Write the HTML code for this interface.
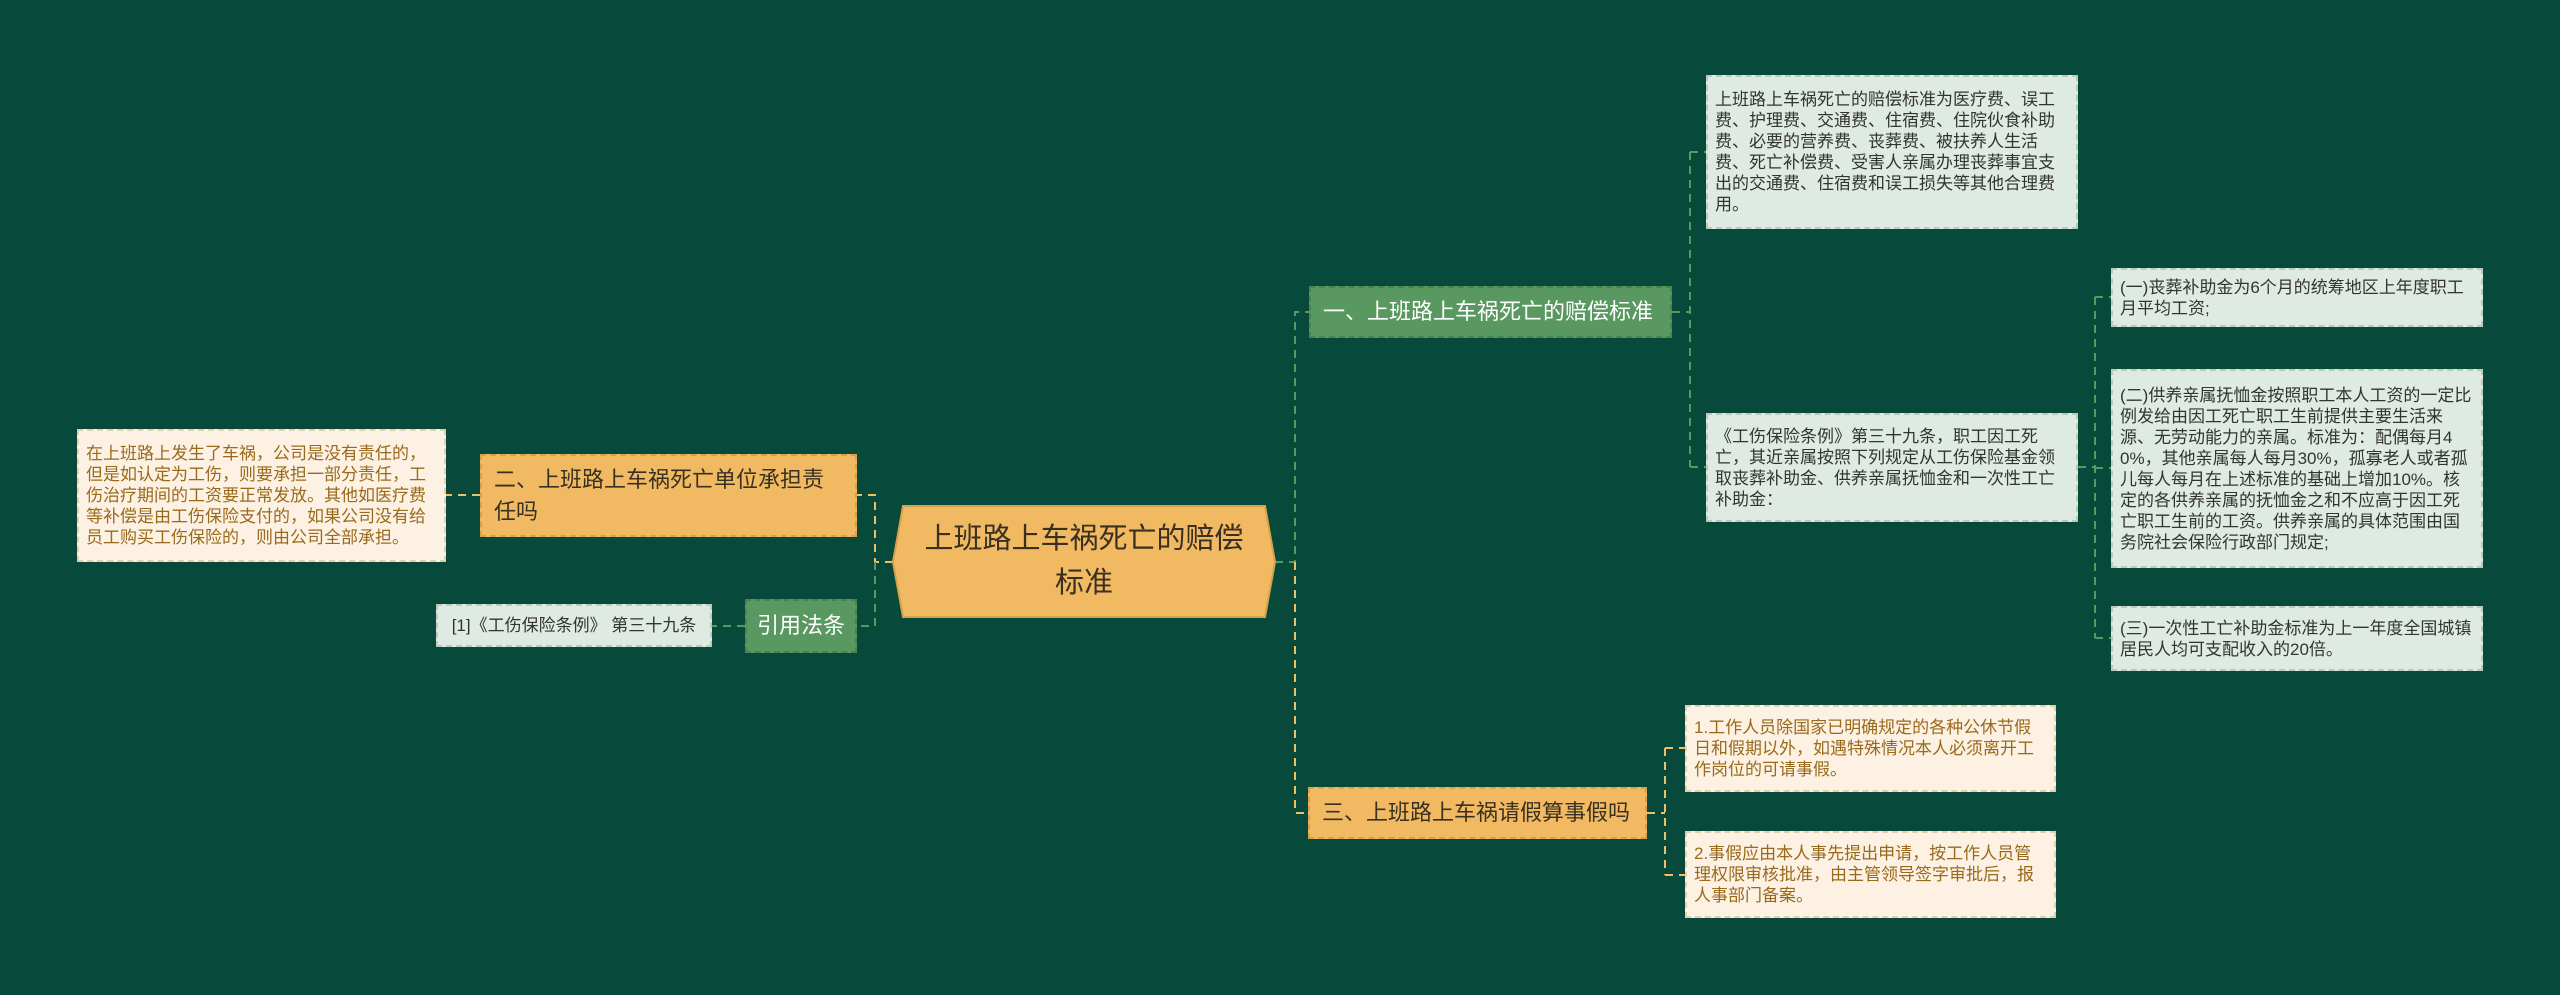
<!DOCTYPE html>
<html><head><meta charset="utf-8"><style>
body{margin:0;width:2560px;height:995px;background:#07493a;position:relative;overflow:hidden;font-family:"Liberation Sans","Noto Sans CJK SC",sans-serif}
.b{position:absolute;box-sizing:border-box;padding:4px 7px;font-size:17px;line-height:21px;word-break:break-all;display:flex;align-items:center}
.b>span{display:block;width:100%}
.lg{background:#dfebe2;color:#333;border:2px dashed #b8cbbd}
.cr{background:#fcf1e2;color:#9a6a1c;border:2px dashed #e2cfae}
.gn{background:#5a9861;color:#fff;border:2px dashed #4a8352;font-size:22px;line-height:30px}
.or{background:#f0b962;color:#3a3020;border:2px dashed #d9a24a;font-size:22px;line-height:32px}
svg{position:absolute;left:0;top:0}
</style></head><body>
<svg width="2560" height="995">
<g fill="none" stroke-width="2" stroke-dasharray="8,6">
<path d="M1275 562 H1295 V312 H1309" stroke="#5a9861"/>
<path d="M1295 562 V813 H1308" stroke="#f0c060"/>
<path d="M1672 312 H1690 M1690 152 V467 M1690 152 H1706 M1690 467 H1706" stroke="#5a9861"/>
<path d="M2078 467 H2095 M2095 297 V638 M2095 297 H2111 M2095 468 H2111 M2095 638 H2111" stroke="#5a9861"/>
<path d="M1647 813 H1665 M1665 748 V875 M1665 748 H1685 M1665 875 H1685" stroke="#f0c060"/>
<path d="M893 562 H875 V495 H857" stroke="#f0c060"/>
<path d="M875 562 V626 H857" stroke="#5a9861"/>
<path d="M480 495 H446" stroke="#f0c060"/>
<path d="M745 626 H712" stroke="#5a9861"/>
</g>
<polygon points="903,506 1265,506 1275,562 1265,617 903,617 893,562" fill="#f0b962" stroke="#d9a24a" stroke-width="2"/>
</svg>
<div style="position:absolute;left:903px;top:517px;width:362px;text-align:center;font-size:29px;line-height:44px;color:#3a3020">上班路上车祸死亡的赔偿<br>标准</div>
<div class="b gn" style="left:1309px;top:286px;width:363px;height:52px;padding:9px 12px"><span>一、上班路上车祸死亡的赔偿标准</span></div>
<div class="b lg" style="left:1706px;top:75px;width:372px;height:154px"><span>上班路上车祸死亡的赔偿标准为医疗费、误工费、护理费、交通费、住宿费、住院伙食补助费、必要的营养费、丧葬费、被扶养人生活费、死亡补偿费、受害人亲属办理丧葬事宜支出的交通费、住宿费和误工损失等其他合理费用。</span></div>
<div class="b lg" style="left:1706px;top:413px;width:372px;height:109px"><span>《工伤保险条例》第三十九条，职工因工死亡，其近亲属按照下列规定从工伤保险基金领取丧葬补助金、供养亲属抚恤金和一次性工亡补助金：</span></div>
<div class="b lg" style="left:2111px;top:268px;width:372px;height:59px"><span>(一)丧葬补助金为6个月的统筹地区上年度职工月平均工资;</span></div>
<div class="b lg" style="left:2111px;top:369px;width:372px;height:199px"><span>(二)供养亲属抚恤金按照职工本人工资的一定比例发给由因工死亡职工生前提供主要生活来源、无劳动能力的亲属。标准为：配偶每月40%，其他亲属每人每月30%，孤寡老人或者孤儿每人每月在上述标准的基础上增加10%。核定的各供养亲属的抚恤金之和不应高于因工死亡职工生前的工资。供养亲属的具体范围由国务院社会保险行政部门规定;</span></div>
<div class="b lg" style="left:2111px;top:606px;width:372px;height:65px"><span>(三)一次性工亡补助金标准为上一年度全国城镇居民人均可支配收入的20倍。</span></div>
<div class="b or" style="left:1308px;top:787px;width:339px;height:52px;padding:8px 12px"><span>三、上班路上车祸请假算事假吗</span></div>
<div class="b cr" style="left:1685px;top:705px;width:371px;height:87px"><span>1.工作人员除国家已明确规定的各种公休节假日和假期以外，如遇特殊情况本人必须离开工作岗位的可请事假。</span></div>
<div class="b cr" style="left:1685px;top:831px;width:371px;height:87px"><span>2.事假应由本人事先提出申请，按工作人员管理权限审核批准，由主管领导签字审批后，报人事部门备案。</span></div>
<div class="b or" style="left:480px;top:454px;width:377px;height:83px;padding:10px 12px"><span>二、上班路上车祸死亡单位承担责任吗</span></div>
<div class="b cr" style="left:77px;top:429px;width:369px;height:133px"><span>在上班路上发生了车祸，公司是没有责任的，但是如认定为工伤，则要承担一部分责任，工伤治疗期间的工资要正常发放。其他如医疗费等补偿是由工伤保险支付的，如果公司没有给员工购买工伤保险的，则由公司全部承担。</span></div>
<div class="b gn" style="left:745px;top:599px;width:112px;height:54px;padding:10px 0;text-align:center"><span>引用法条</span></div>
<div class="b lg" style="left:436px;top:604px;width:276px;height:43px;padding:7px 10px;text-align:center"><span>[1]《工伤保险条例》 第三十九条</span></div>
</body></html>
